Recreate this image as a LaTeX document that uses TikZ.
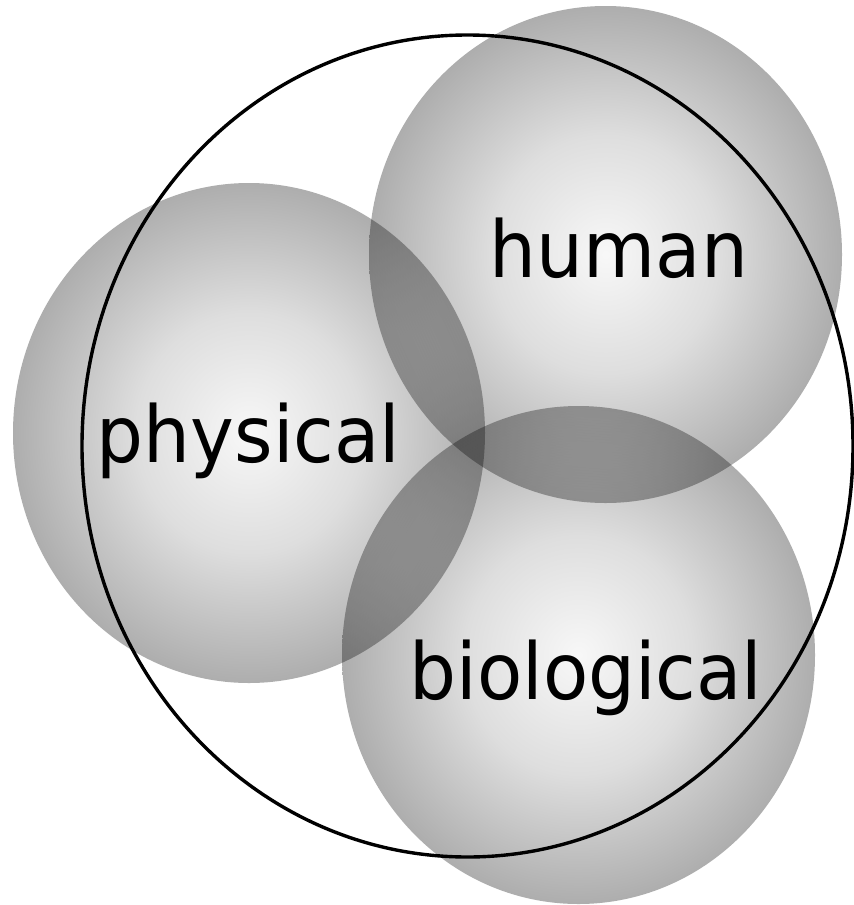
\documentclass[tikz,border=0pt]{standalone}
\usepackage{fontspec}
\setmainfont{DejaVu Sans}
\usetikzlibrary{shapes.geometric}
\definecolor{ballin}{gray}{0.97}
\definecolor{ballmid}{gray}{0.87}
\definecolor{ballout}{gray}{0.68}
\pgfdeclareradialshading{ballshade}{\pgfpoint{0bp}{0bp}}{color(0bp)=(ballin); color(12bp)=(ballmid); color(25bp)=(ballout); color(50bp)=(ballout)}
\tikzset{
  ball/.style={shading=ballshade, blend mode=multiply},
  ring/.style={draw=black, line width=3.4pt},
  lbl/.style={font=\fontsize{74}{80}\selectfont, text=black, inner sep=0pt, anchor=base, yscale=1.06}
}
\begin{document}
\begin{tikzpicture}[x=1pt,y=-1pt]
  \useasboundingbox (0,0) rectangle (854,905);
  \fill[white] (0,0) rectangle (854,905);
  \begin{scope}[blend group=multiply]
    \shade[ball] (249,433) ellipse [x radius=236, y radius=250];
    \shade[ball] (605.5,254.5) ellipse [x radius=236.5, y radius=248.5];
    \shade[ball] (578.5,655) ellipse [x radius=236.5, y radius=249];
  \end{scope}
  \draw[ring] (467.5,446) ellipse [x radius=385.5, y radius=411];
  \node[lbl] (human) at (619,277) {human};
  \node[lbl] (physical) at (248.5,462) {physical};
  \node[lbl] (biological) at (586,699) {biological};
\end{tikzpicture}
\end{document}
